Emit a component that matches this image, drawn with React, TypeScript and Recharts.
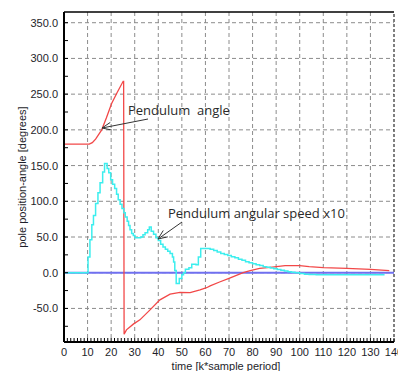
import { LineChart, Line, XAxis, YAxis, CartesianGrid, ReferenceLine } from "recharts";

// pendulum angle [deg] vs time [k]
const pendulumAngle = [
  [0, 180], [10.7, 180], [12, 182], [13.4, 187], [14.6, 193], [16, 200], [18, 217],
  [20.2, 237], [22.5, 252], [25.1, 268], [25.3, 268], [25.5, -86], [26.5, -80],
  [29.4, -72], [32.2, -66], [36.5, -52], [40.7, -38], [45, -30], [49.2, -27.5],
  [53.5, -28], [57.7, -24], [60.5, -21], [62, -18.5], [66, -13], [70, -8], [76, 0],
  [79, 3], [83, 6], [87.4, 7.6], [93.8, 9.8], [100, 10], [104, 8.4], [110, 7],
  [120, 6], [130, 4.7], [138, 2.8],
];

// pendulum angular speed x10
const angularSpeed = [
  [0, 0], [10.2, 22], [11, 46], [11.8, 67], [12.5, 80], [13.4, 97], [14.4, 112],
  [15.3, 126], [16.4, 141], [17.2, 153], [18.3, 146], [19, 140], [19.8, 130],
  [20.6, 124], [21.5, 118], [22.3, 110], [23, 102], [23.8, 96], [24.6, 90],
  [25.4, 84], [26, 78], [26.8, 72], [27.4, 66], [28, 60], [28.7, 55], [29.4, 52],
  [30.1, 49], [32.5, 50], [33.5, 53], [34.4, 56], [35.5, 60], [36.2, 64], [37, 58],
  [38, 54], [39, 49], [40, 45], [41, 40], [42, 36], [43, 33], [44, 30], [45, 27],
  [46, 22], [46.5, 15], [47, 3], [47.6, -15], [48.9, -8], [50, -3], [50.7, 0],
  [51.5, 5], [53, 7], [54.2, 12], [56, 11], [57, 22], [58, 34], [62, 33],
  [63.5, 31], [65, 29], [66.5, 27], [68, 25.5], [69.5, 24], [71, 22.5], [72.5, 21],
  [74, 19], [75.5, 17.5], [77, 15.5], [78.5, 14], [80, 12.5], [81.5, 11], [83, 10],
  [84.5, 8.5], [86, 7.5], [87.5, 6.5], [89, 5.5], [90.5, 4.5], [92, 3.5],
  [93.5, 2.5], [95, 1.5], [96.5, 0.5], [98, 0], [100, -1], [102, -2], [104, -2.5],
  [107, -3], [136, -3],
];

// cart position
const cartPosition = [
  [0, 0], [140, 0],
];

const xTicks = [0, 10, 20, 30, 40, 50, 60, 70, 80, 90, 100, 110, 120, 130, 140];
const yTicks = [-50, 0, 50, 100, 150, 200, 250, 300, 350];
const xDomain = [0, 140];
const yDomain = [-97, 365];

const toPts = (arr: number[][]) => arr.map(([t, v]) => ({ t, v }));

// minor ticks: 7 per x step, 2 per y step
const xMinor = Array.from({ length: 14 * 7 + 1 }, (_, i) => (i * 10) / 7);
const yMinor = Array.from({ length: 18 }, (_, i) => -75 + i * 25);

const font = "'Liberation Sans', Arial, sans-serif";

const XTick = (props: any) => {
  const { x, y, payload } = props;
  const v = payload.value;
  const major = Math.abs(v / 10 - Math.round(v / 10)) < 1e-6;
  return (
    <g>
      <line x1={x} x2={x} y1={y} y2={y - 4} stroke="#000" />
      {major && (
        <text x={x} y={y + 14} textAnchor="middle" fontSize={11} fontFamily={font} fill="#1e1e2a">
          {Math.round(v)}
        </text>
      )}
    </g>
  );
};

const YTick = (props: any) => {
  const { x, y, payload } = props;
  const v = payload.value;
  const major = v % 50 === 0;
  return (
    <g>
      <line x1={x} x2={x + 4} y1={y} y2={y} stroke="#000" />
      {major && (
        <text x={x - 6} y={y + 4} textAnchor="end" fontSize={11} fontFamily={font} fill="#1e1e2a">
          {v.toFixed(1)}
        </text>
      )}
    </g>
  );
};

const arrowHead = (x1: number, y1: number, x2: number, y2: number) => {
  const a = Math.atan2(y2 - y1, x2 - x1);
  const L = 10;
  const p1 = [x2 - L * Math.cos(a - 0.4), y2 - L * Math.sin(a - 0.4)];
  const p2 = [x2 - L * Math.cos(a + 0.4), y2 - L * Math.sin(a + 0.4)];
  return `M${p1[0]},${p1[1]} L${x2},${y2} L${p2[0]},${p2[1]}`;
};

export default function App() {
  return (
    <div style={{ position: "absolute", left: 0, top: 0, width: 398, height: 371, background: "#fff" }}>
      <LineChart width={398} height={371} margin={{ top: 12, right: 4, bottom: 0, left: 0 }}>
        <CartesianGrid
          stroke="#8c8c8c"
          strokeDasharray="4 3"
          horizontalValues={yTicks}
          verticalValues={xTicks.slice(1, -1)}
        />
        <XAxis
          type="number"
          dataKey="t"
          domain={xDomain}
          ticks={xMinor}
          interval={0}
          allowDataOverflow
          height={29}
          tickSize={0}
          tickMargin={0}
          tickLine={false}
          tick={<XTick />}
          axisLine={{ stroke: "#000", strokeWidth: 2 }}
          label={{ value: "time [k*sample period]", position: "center", dx: -3, dy: 10, fontSize: 11, fontFamily: font, fill: "#1e1e2a" }}
        />
        <YAxis
          type="number"
          domain={yDomain}
          ticks={yMinor}
          interval={0}
          allowDataOverflow
          width={64}
          tickSize={0}
          tickMargin={0}
          tickLine={false}
          tick={<YTick />}
          axisLine={{ stroke: "#000", strokeWidth: 2 }}
          label={{ value: "pole position-angle [degrees]", angle: -90, position: "center", dx: -10, fontSize: 11, fontFamily: font, fill: "#1e1e2a" }}
        />
        <ReferenceLine y={yDomain[1]} stroke="#000" strokeWidth={1.5} />
        <ReferenceLine x={xDomain[1]} stroke="#000" strokeDasharray="3 2" />
        <Line data={toPts(cartPosition)} dataKey="v" type="linear" stroke="#7070f0" strokeWidth={2} dot={false} isAnimationActive={false} />
        <Line data={toPts(pendulumAngle)} dataKey="v" type="linear" stroke="#f24848" strokeWidth={1.3} dot={false} isAnimationActive={false} />
        <Line data={toPts(angularSpeed)} dataKey="v" type="stepAfter" stroke="#3ceeee" strokeWidth={1.5} dot={false} isAnimationActive={false} />
      </LineChart>
      <svg width={398} height={371} style={{ position: "absolute", left: 0, top: 0, pointerEvents: "none" }}>
        <g fontFamily="'Open Sans', sans-serif" fontSize={13} fill="#2a2a2a">
          <text x={128} y={115}>{"Pendulum\u00a0 angle"}</text>
          <text x={168} y={218}>Pendulum angular speed x10</text>
        </g>
        <g stroke="#333" fill="none" strokeWidth={1}>
          <line x1={148} y1={119} x2={102} y2={128} />
          <path d={arrowHead(148, 119, 102, 128)} />
          <line x1={182} y1={222} x2={158} y2={239} />
          <path d={arrowHead(182, 222, 158, 239)} />
        </g>
      </svg>
    </div>
  );
}
